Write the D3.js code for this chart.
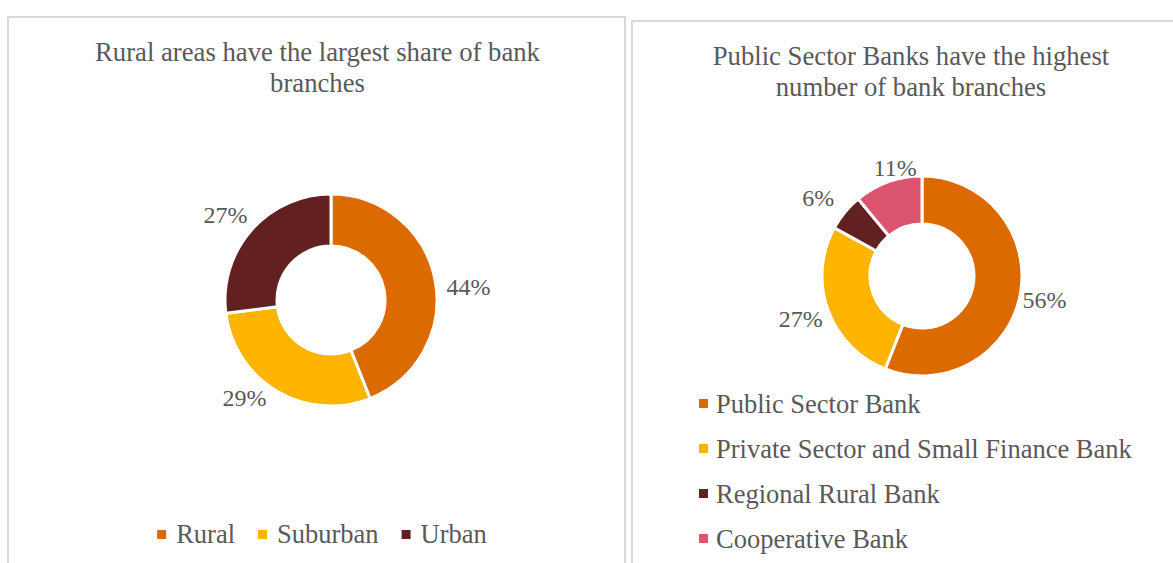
<!DOCTYPE html>
<html>
<head>
<meta charset="utf-8">
<script src="https://cdn.jsdelivr.net/npm/d3@7"></script>
<style>
  html, body { margin: 0; padding: 0; background: #fff; }
  svg { display: block; }
</style>
</head>
<body>
<svg id="chart" width="1173" height="563"></svg>
<script>
// ---- Data ----
const areaCategories = ["Rural", "Suburban", "Urban"];
const areaShares = [44, 29, 27];
const areaColors = ["#DB6A00", "#FFB400", "#622120"];

const bankCategories = ["Public Sector Bank", "Private Sector and Small Finance Bank", "Regional Rural Bank", "Cooperative Bank"];
const bankShares = [56, 27, 6, 11];
const bankColors = ["#DB6A00", "#FFB400", "#622120", "#DB556F"];

const titles = [
  ["Rural areas have the largest share of bank", "branches"],
  ["Public Sector Banks have the highest", "number of bank branches"]
];

// ---- Layout ----
const FONT = "'Liberation Serif', 'Times New Roman', Tinos, 'Nimbus Roman', 'DejaVu Serif', serif";
const TXT = "#595959";
const svg = d3.select("#chart");

const panels = [
  { x: 8, y: 17, w: 617, h: 560 },
  { x: 632, y: 21, w: 560, h: 560 }
];
panels.forEach(p => {
  svg.append("rect")
    .attr("x", p.x).attr("y", p.y).attr("width", p.w).attr("height", p.h)
    .attr("fill", "#fff").attr("stroke", "#d9d9d9").attr("stroke-width", 2);
});

function txt(sel) {
  return sel.attr("font-family", FONT).attr("fill", TXT);
}

function drawTitle(lines, cx, y0, lh) {
  const t = txt(svg.append("text")).attr("text-anchor", "middle").attr("font-size", 26.7);
  lines.forEach((l, i) => {
    t.append("tspan").attr("x", cx).attr("y", y0 + i * lh).text(l);
  });
}
drawTitle(titles[0], 317.5, 61, 31);
drawTitle(titles[1], 911, 65, 31);

function drawDonut(cfg) {
  const { cx, cy, outer, inner, values, colors, nudges } = cfg;
  const g = svg.append("g").attr("transform", `translate(${cx},${cy})`);
  const pie = d3.pie().sort(null).value(d => d);
  const arcs = pie(values);
  const arc = d3.arc().innerRadius(inner).outerRadius(outer);
  g.selectAll("path.slice").data(arcs).join("path")
    .attr("class", "slice")
    .attr("d", arc)
    .attr("fill", (d, i) => colors[i])
    .attr("stroke", "#fff").attr("stroke-width", 3).attr("stroke-linejoin", "miter");

  const labelArc = d3.arc().innerRadius(outer + 8).outerRadius(outer + 8);
  const total = d3.sum(values);
  arcs.forEach((d, i) => {
    const [px, py] = labelArc.centroid(d);
    const a = (d.startAngle + d.endAngle) / 2;
    const s = Math.sin(a), c = Math.cos(a);
    const label = Math.round(d.value / total * 100) + "%";
    const w = label.length * 12.5, h = 22;
    const nx = (nudges && nudges[i]) ? nudges[i][0] : 0;
    const ny = (nudges && nudges[i]) ? nudges[i][1] : 0;
    txt(g.append("text"))
      .attr("x", px + s * w / 2 + nx).attr("y", py - c * h / 2 + ny)
      .attr("text-anchor", "middle")
      .attr("dominant-baseline", "central")
      .attr("font-size", 24)
      .text(label);
  });
}

drawDonut({ cx: 331, cy: 300, outer: 106, inner: 54,
  values: areaShares, colors: areaColors,
  nudges: [[7, 10], [-19, -10], [-6, -2]] });
drawDonut({ cx: 922, cy: 276, outer: 100, inner: 52,
  values: bankShares, colors: bankColors,
  nudges: [[-2, 2], [-2, 3], [-11, -2], [16, 4]] });

// Legend left (horizontal, centered)
(function () {
  const g = svg.append("g");
  const fs = 26.5, sq = 9, gap = 10, itemGap = 23;
  const tmp = txt(g.append("text")).attr("font-size", fs);
  const widths = areaCategories.map(c => { tmp.text(c); return tmp.node().getComputedTextLength(); });
  tmp.remove();
  const total = d3.sum(widths) + areaCategories.length * (sq + gap) + (areaCategories.length - 1) * itemGap;
  let x = 322 - total / 2;
  const base = 543;
  areaCategories.forEach((c, i) => {
    g.append("rect").attr("x", x).attr("y", base - 13).attr("width", sq).attr("height", sq).attr("fill", areaColors[i]);
    txt(g.append("text")).attr("x", x + sq + gap).attr("y", base)
      .attr("font-size", fs).text(c);
    x += sq + gap + widths[i] + itemGap;
  });
})();

// Legend right (vertical)
(function () {
  const g = svg.append("g");
  const fs = 26.5, sq = 9;
  const y = d3.scalePoint().domain(bankCategories).range([412.5, 547.5]);
  bankCategories.forEach((c, i) => {
    g.append("rect").attr("x", 699).attr("y", y(c) - 13.5).attr("width", sq).attr("height", sq).attr("fill", bankColors[i]);
    txt(g.append("text")).attr("x", 716).attr("y", y(c))
      .attr("font-size", fs).text(c);
  });
})();
</script>
</body>
</html>
